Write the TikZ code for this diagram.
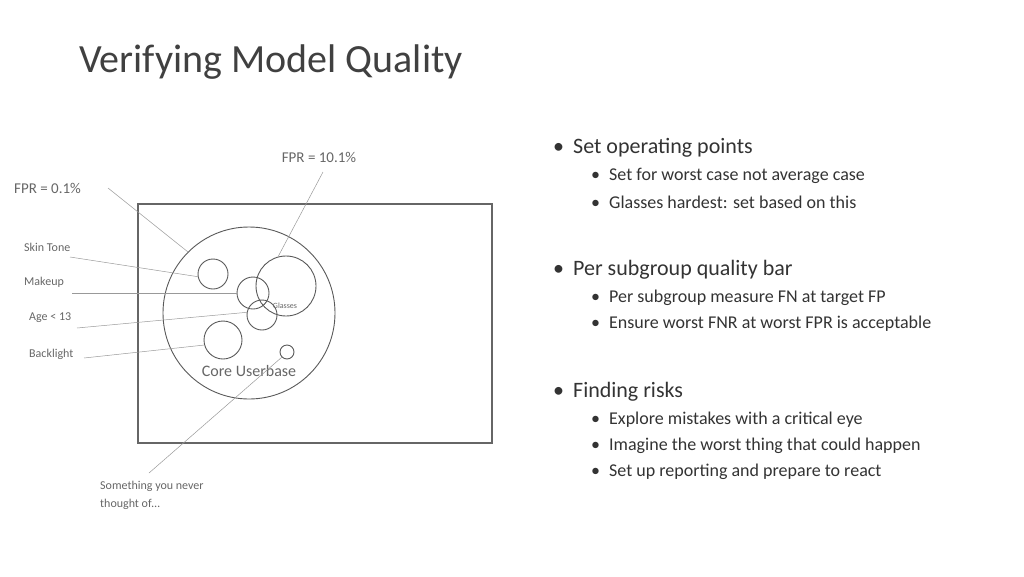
\documentclass[tikz,border=0pt]{standalone}
\usepackage{fontspec}
\setmainfont{Carlito}
\begin{document}
\begin{tikzpicture}[x=1pt,y=-1pt,
  lbl/.style={text=black!60,font=\fontsize{12}{14}\selectfont,inner sep=0pt},
  ptr/.style={draw=black!40,line width=0.5pt},
  ring/.style={draw=black!65,line width=0.9pt},
  b1/.style={anchor=west,inner sep=0pt,text=black!80,font=\fontsize{22}{26}\selectfont},
  b2/.style={anchor=west,inner sep=0pt,text=black!80,font=\fontsize{18}{22}\selectfont}]
\useasboundingbox (0,0) rectangle (1024,576);
\node[anchor=base west,inner sep=0pt,text=black!75,font=\fontsize{40}{44}\selectfont] (title) at (79,72) {Verifying Model Quality};
\draw[ring,draw=black!60,line width=1.2pt] (138,204) rectangle (492,443);
\node[ring,circle,minimum size=172pt,inner sep=0pt] (core) at (249,313) {};
\node[ring,circle,minimum size=30pt,inner sep=0pt] (skin) at (213,274) {};
\node[ring,circle,minimum size=32pt,inner sep=0pt] (make) at (253,293) {};
\node[ring,circle,minimum size=60pt,inner sep=0pt] (glas) at (286,286) {};
\node[ring,circle,minimum size=30pt,inner sep=0pt] (age) at (262,315) {};
\node[ring,circle,minimum size=38pt,inner sep=0pt] (back) at (223,340) {};
\node[ring,circle,minimum size=14pt,inner sep=0pt] (tiny) at (287,352) {};
\node[lbl,font=\fontsize{8}{9}\selectfont] (gt) at (285,306) {Glasses};
\node[lbl,font=\fontsize{16}{18}\selectfont] (ct) at (249,371) {Core Userbase};
\node[lbl,anchor=west,font=\fontsize{15}{17}\selectfont] (f1) at (14,188) {FPR = 0.1\%};
\node[lbl,font=\fontsize{15}{17}\selectfont] (f2) at (319,157) {FPR = 10.1\%};
\node[lbl,anchor=west] (st) at (24,247) {Skin Tone};
\node[lbl,anchor=west] (mk) at (24,282) {Makeup};
\node[lbl,anchor=west] (ag) at (29,318) {Age < 13};
\node[lbl,anchor=west] (bl) at (29,354) {Backlight};
\node[lbl,anchor=north west,align=left,font=\fontsize{12}{18}\selectfont] (sy) at (100,481) {Something you never\\thought of…};
\coordinate (c1) at (108,188); \coordinate (c2) at (323,172);
\coordinate (c3) at (70,257); \coordinate (c4) at (72,293);
\coordinate (c5) at (77,328); \coordinate (c6) at (84,358);
\coordinate (c7) at (149,473);
\draw[ptr] (c1) -- (core.135);
\draw[ptr] (c2) -- (glas.105);
\draw[ptr] (c3) -- (skin.190);
\draw[ptr] (c4) -- (make.180);
\draw[ptr] (c5) -- (age.170);
\draw[ptr] (c6) -- (back.195);
\draw[ptr] (c7) -- (tiny.225);
\foreach \y/\t in {148/Set operating points,270/Per subgroup quality bar,392/Finding risks}
  \node[b1] at (553,\y) {•\hspace{9pt}\t};
\foreach \y/\t in {176/Set for worst case not average case,202/Glasses hardest: set based on this,298/Per subgroup measure FN at target FP,324/Ensure worst FNR at worst FPR is acceptable,420/Explore mistakes with a critical eye,446/Imagine the worst thing that could happen,472/Set up reporting and prepare to react}
  \node[b2] at (591,\y) {•\hspace{9pt}\t};
\end{tikzpicture}
\end{document}
